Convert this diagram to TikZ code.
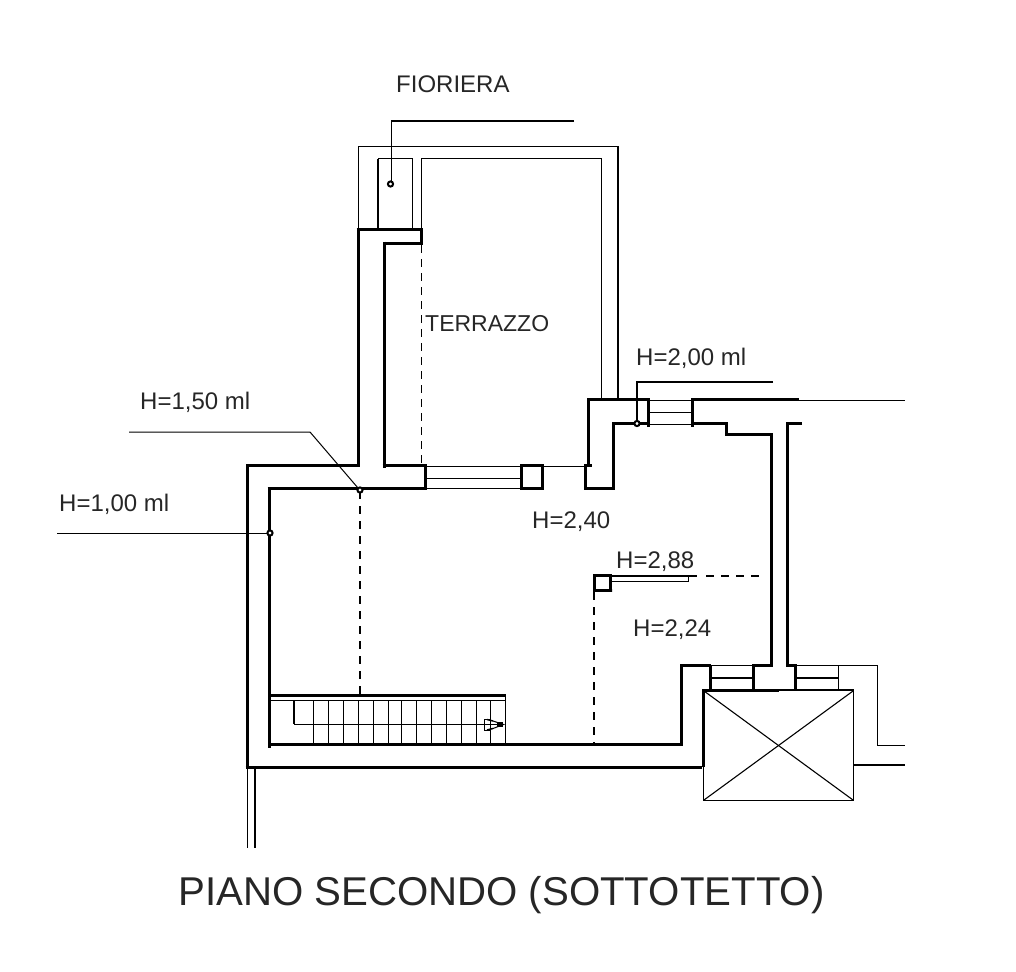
\documentclass[tikz,border=0pt]{standalone}
\usepackage{fontspec}
\setmainfont{Liberation Sans}
\tikzset{
  wall/.style={line width=3pt,line cap=butt,line join=miter},
  mid/.style={line width=2pt},
  semi/.style={line width=1.5pt},
  fine/.style={line width=1pt},
  hid/.style={line width=1.8pt,dash pattern=on 8pt off 7pt},
  pin/.style={line width=2pt,fill=white},
  lab/.style={anchor=base west,inner sep=0pt,text=black!85,font=\fontsize{24}{24}\selectfont},
  ttl/.style={anchor=base west,inner sep=0pt,text=black!85,font=\fontsize{40.2}{40.2}\selectfont}
}
\begin{document}
\begin{tikzpicture}[x=1pt,y=-1pt]
\useasboundingbox (0,0) rectangle (1016,971);
% planter and terrace
\draw[fine] (358.5,228) -- (358.5,146.5) -- (617,146.5);
\draw[mid] (618,146) -- (618,400);
\draw[fine] (421.5,228) -- (421.5,158.5) -- (601.5,158.5) -- (601.5,400);
\draw[mid] (378,228) -- (378,158.5);
\draw[fine] (378,158.5) -- (412.5,158.5) -- (412.5,228);
\draw[wall] (356.5,229) -- (423,229);
\draw[wall] (358,229) -- (358,466);
\draw[wall] (421,229) -- (421,243) -- (382.5,243);
\draw[wall] (384,241.5) -- (384,468);
\draw[fine,dash pattern=on 8pt off 6pt] (421.5,245) -- (421.5,465);
% main walls
\draw[wall] (359.5,465.5) -- (247,465.5) -- (247,769);
\draw[wall] (382.5,465.5) -- (425.5,465.5);
\draw[wall] (425.5,464) -- (425.5,490);
\draw[wall] (267.5,488.5) -- (427,488.5);
\draw[wall] (269,487) -- (269,748);
% south window
\draw[fine] (425,466) -- (522,466);
\draw[fine] (425,478) -- (522,478);
\draw[semi] (425,488.5) -- (522,488.5);
\draw[wall] (521.5,465.5) rectangle (542.5,488.5);
\draw[fine] (543,466) -- (586,466);
% east jog
\draw[wall] (588,466.5) -- (588,399.5) -- (648,399.5);
\draw[wall] (584,465.5) -- (592,465.5);
\draw[wall] (585.5,465) -- (585.5,488.5) -- (613,488.5) -- (613,423) -- (648,423);
\draw[wall] (648,398) -- (648,426.5);
\draw[fine] (648,400.5) -- (692,400.5);
\draw[fine] (648,412.5) -- (692,412.5);
\draw[fine] (648,424.5) -- (692,424.5);
\draw[wall] (692.5,398) -- (692.5,426.5);
\draw[wall] (691,399.5) -- (799,399.5);
\draw[fine] (799,400) -- (905,400);
\draw[wall] (691,423) -- (726,423) -- (726,434.5) -- (771,434.5) -- (771,665) -- (753,665) -- (753,690);
\draw[wall] (802,423) -- (787,423) -- (787,665) -- (795,665) -- (795,690);
% pillar
\draw[wall] (594,591) -- (594,575.5) -- (610,575.5) -- (610,590.5) -- (612,590.5) -- (592.5,590.5);
\draw[mid] (610,576) -- (697,576);
\draw[fine] (610,581.7) -- (688,581.7) -- (688,576);
\draw[line width=1.5pt,dash pattern=on 8pt off 7pt] (706,576) -- (765,576);
\draw[hid] (594,592) -- (594,744);
\draw[hid] (360,491) -- (360,695);
% staircase
\draw[wall] (268,695.7) -- (506,695.7);
\draw[fine] (270,700.7) -- (505.5,700.7) ;
\draw[fine] (505.5,696) -- (505.5,744);
\draw[semi] (294,701) -- (294,724);
\draw[fine] (294,724) -- (503.5,724);
\foreach \s in {313.3,328.3,343.3,358.3,373.3,388.3,490.7}
  \draw[fine] (\s,701) -- (\s,744);
\foreach \s in {401.7,416.7,431.7,446.7,461.7,476.7}
  \draw[semi] (\s,701) -- (\s,744);
\draw[fine] (490,719) -- (484.5,719) -- (484.5,730.5) -- (490,730.5);
\draw[semi] (487,719.5) -- (493,721);
\draw[semi] (487,730) -- (493,728.5);
\draw[fine] (493,721) -- (503.5,724.5) -- (493,728.5);
\draw[semi] (497,723) -- (503,723);
\draw[semi] (497,726) -- (503,726);
\draw[wall] (268,744.5) -- (682,744.5);
\draw[wall] (245.5,767.5) -- (702,767.5);
\draw[fine] (247.5,768) -- (247.5,848);
\draw[mid] (255,768) -- (255,848);
% north-east block
\draw[wall] (681,746) -- (681,665) -- (711,665);
\draw[wall] (710,665) -- (710,690);
\draw[fine] (710,665.7) -- (753,665.7);
\draw[mid] (710,678) -- (753,678);
\draw[fine] (795,665.7) -- (877.5,665.7) -- (877.5,745.5) -- (905,745.5);
\draw[mid] (795,678) -- (838,678);
\draw[fine] (838,665.7) -- (838,690);
% box
\draw[wall] (703,767) -- (703,690) -- (779,690);
\draw[mid] (779,690) -- (853.5,690);
\draw[fine] (853.5,690) -- (853.5,800.5);
\draw[fine] (703.5,767) -- (703.5,800.5);
\draw[semi] (703,800.5) -- (854,800.5);
\draw[line width=1.1pt] (704,691) -- (853,800);
\draw[line width=1.1pt] (853,691) -- (704,800);
\draw[mid] (854,765) -- (905,765);
% leaders
\draw[semi] (574,121) -- (391.5,121) -- (391.5,181);
\draw[pin] (390.5,184) circle (2.6pt);
\draw[semi] (773,382) -- (637,382) -- (637,421);
\draw[pin] (637,423.5) circle (2.6pt);
\draw[fine] (129,432) -- (310,432) -- (358,488);
\draw[pin] (360,490) circle (2.6pt);
\draw[fine] (57,533) -- (268,533);
\draw[pin] (270,533) circle (2.6pt);
% labels
\node[lab] (fioriera) at (396,93) {FIORIERA};
\node[lab,font=\fontsize{23}{23}\selectfont] (terrazzo) at (425,331) {TERRAZZO};
\node[lab] (h200) at (636,365) {H=2,00 ml};
\node[lab] (h150) at (140,409) {H=1,50 ml};
\node[lab] (h100) at (59,511) {H=1,00 ml};
\node[lab] (h240) at (532,528) {H=2,40};
\node[lab] (h288) at (616,568) {H=2,88};
\node[lab] (h224) at (633,636) {H=2,24};
\node[ttl] (title) at (178,905) {PIANO SECONDO (SOTTOTETTO)};
\end{tikzpicture}
\end{document}
